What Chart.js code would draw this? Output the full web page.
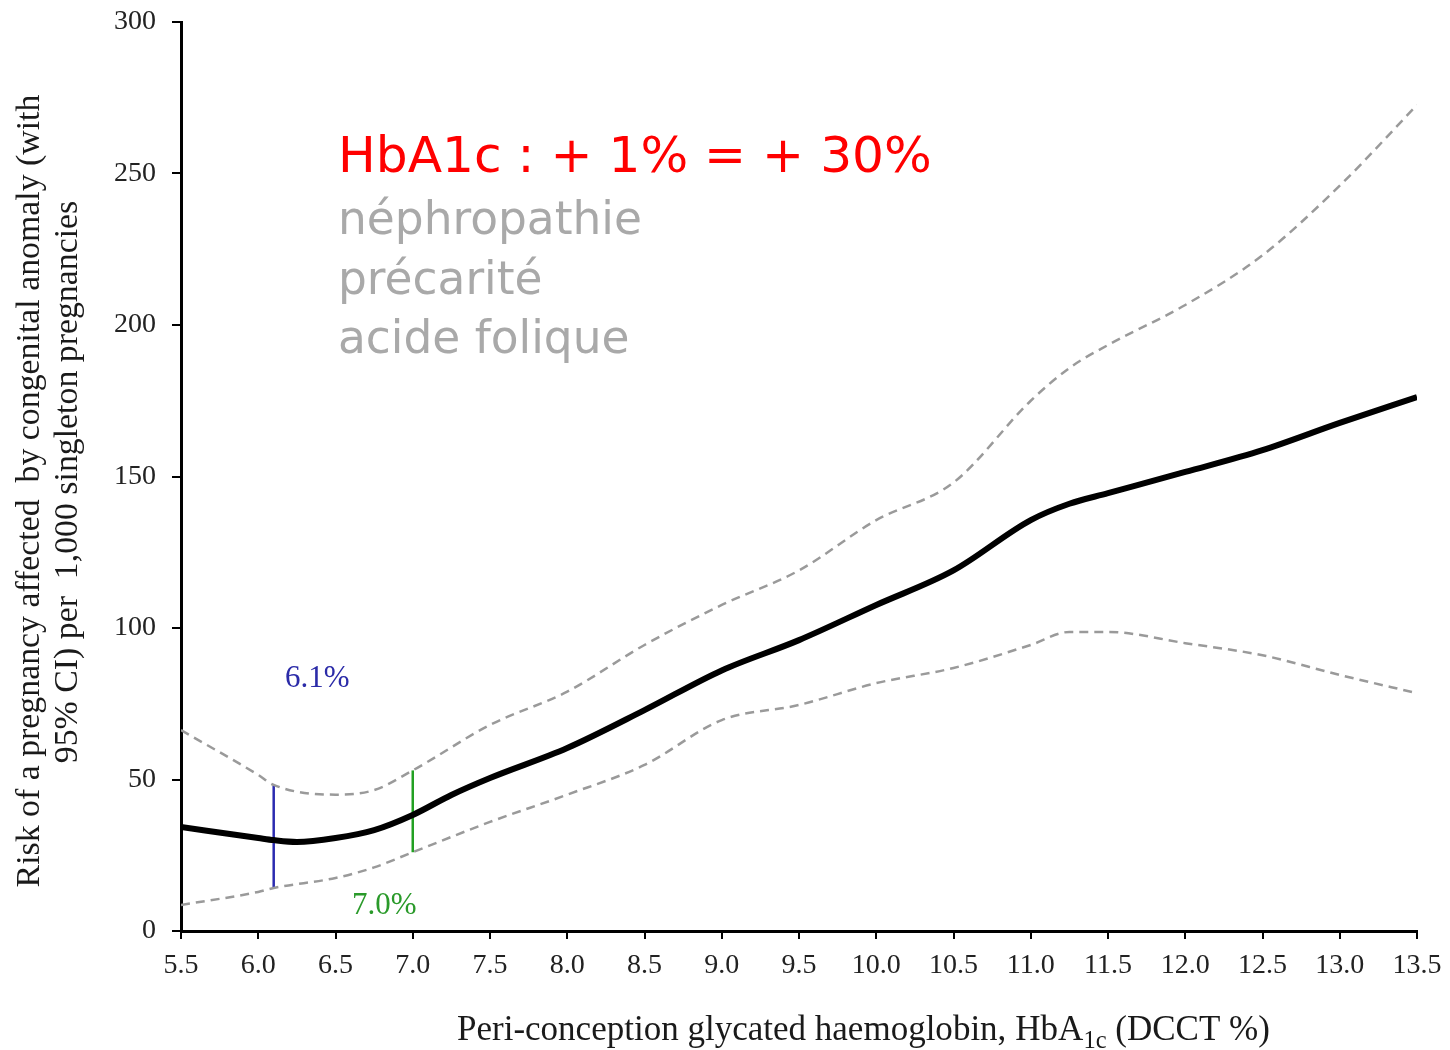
<!DOCTYPE html>
<html>
<head>
<meta charset="utf-8">
<script src="https://cdn.jsdelivr.net/npm/chart.js@4.4.1/dist/chart.umd.min.js"></script>
<style>
html,body{margin:0;padding:0;background:#fff;}
#wrap{width:1450px;height:1050px;position:relative;}
</style>
</head>
<body>
<div id="wrap"><canvas id="c" width="1450" height="1050"></canvas></div>
<script>
// ---- data ----
const hba1c      = [5.5, 6.0, 6.1, 6.25, 6.5, 6.75, 7.0, 7.25, 7.5, 8.0, 8.5, 9.0, 9.5, 10.0, 10.5, 11.0, 11.25, 11.5, 12.0, 12.5, 13.0, 13.5];
const risk       = [34.3, 30.7, 30.0, 29.4, 30.7, 33.3, 38.3, 44.9, 50.5, 60.4, 72.9, 86.0, 96.0, 107.6, 119.0, 135.6, 141.0, 144.5, 151.5, 158.7, 167.7, 176.2];
const ciX        = [5.5, 6.0, 6.1, 6.5, 6.75, 7.0, 7.5, 8.0, 8.5, 9.0, 9.5, 10.0, 10.5, 11.0, 11.25, 11.5, 12.0, 12.5, 13.0, 13.5];
const upperCI    = [66.3, 51.5, 48.2, 45.0, 46.5, 53.0, 68.0, 79.0, 94.4, 107.6, 119.0, 135.6, 148.0, 175.0, 185.8, 193.4, 206.6, 223.0, 246.0, 272.6];
const lowerCI    = [8.6, 12.9, 14.2, 17.5, 21.0, 26.0, 36.0, 45.0, 54.8, 69.6, 74.6, 81.8, 86.8, 94.4, 98.7, 98.7, 95.0, 91.0, 84.5, 78.5];
const marker61   = { x: 6.1, low: 14, high: 48, label: "6.1%" };
const marker70   = { x: 7.0, low: 26, high: 53, label: "7.0%" };
const xTickVals  = [5.5, 6.0, 6.5, 7.0, 7.5, 8.0, 8.5, 9.0, 9.5, 10.0, 10.5, 11.0, 11.5, 12.0, 12.5, 13.0, 13.5];
const yTickVals  = [0, 50, 100, 150, 200, 250, 300];
const yTitleLines = ["Risk of a pregnancy affected  by congenital anomaly (with", "95% CI) per  1,000 singleton pregnancies"];
const xTitleMain = "Peri-conception glycated haemoglobin, HbA";
const xTitleSub  = "1c";
const xTitleEnd  = " (DCCT %)";
const headline   = "HbA1c : + 1% = + 30%";
const notes      = ["néphropathie", "précarité", "acide folique"];

const pts = (xs, ys) => xs.map((x, i) => ({ x: x, y: ys[i] }));
const SERIF = "'Liberation Serif','DejaVu Serif',serif";

function fitFont(ctx, text, width, family, weight) {
  ctx.font = (weight || '') + ' 100px ' + family;
  const w = ctx.measureText(text).width;
  return 100 * width / w;
}

const overlay = {
  id: 'overlay',
  afterDraw(chart) {
    const ctx = chart.ctx;
    ctx.save();
    // marker labels
    ctx.font = '31px ' + SERIF;
    ctx.textAlign = 'left';
    ctx.textBaseline = 'alphabetic';
    ctx.fillStyle = '#2b2ba8';
    ctx.fillText(marker61.label, 285, 687);
    ctx.fillStyle = '#2a9a2a';
    ctx.fillText(marker70.label, 352, 914);

    // headline
    const hfam = "'DejaVu Sans','Noto Sans',sans-serif";
    let fs = fitFont(ctx, headline, 594, hfam);
    ctx.font = fs + 'px ' + hfam;
    ctx.fillStyle = '#ff0000';
    ctx.fillText(headline, 338, 172);
    // notes
    ctx.fillStyle = '#a9a9a9';
    const nfs = fitFont(ctx, notes[0], 304, hfam);
    ctx.font = nfs + 'px ' + hfam;
    const base = [234, 294, 353];
    notes.forEach((t, i) => ctx.fillText(t, 338, base[i]));

    // y title
    ctx.fillStyle = '#1a1a1a';
    const yfs = fitFont(ctx, yTitleLines[0], 793, SERIF);
    ctx.font = yfs + 'px ' + SERIF;
    ctx.textAlign = 'center';
    ctx.textBaseline = 'middle';
    ctx.save();
    ctx.translate(30, 491);
    ctx.rotate(-Math.PI / 2);
    ctx.fillText(yTitleLines[0], 0, 0);
    ctx.restore();
    ctx.save();
    ctx.translate(68, 482);
    ctx.rotate(-Math.PI / 2);
    ctx.fillText(yTitleLines[1], 0, 0);
    ctx.restore();

    // x title with subscript
    ctx.textAlign = 'left';
    ctx.textBaseline = 'alphabetic';
    ctx.font = '100px ' + SERIF;
    const r1 = ctx.measureText(xTitleMain).width;
    const r3 = ctx.measureText(xTitleEnd).width;
    ctx.font = '70px ' + SERIF;
    const r2 = ctx.measureText(xTitleSub).width;
    const xfs = 100 * 813 / (r1 + r2 + r3);
    const w1 = r1 * xfs / 100, w2 = r2 * xfs / 100;
    const x0 = 457;
    const by = 1040;
    ctx.font = xfs + 'px ' + SERIF;
    ctx.fillText(xTitleMain, x0, by);
    ctx.font = (xfs * 0.7) + 'px ' + SERIF;
    ctx.fillText(xTitleSub, x0 + w1, by + 8);
    ctx.font = xfs + 'px ' + SERIF;
    ctx.fillText(xTitleEnd, x0 + w1 + w2, by);
    ctx.restore();
  }
};

const ctx = document.getElementById('c').getContext('2d');
new Chart(ctx, {
  type: 'line',
  data: {
    datasets: [
      { label: 'upper', data: pts(ciX, upperCI), borderColor: '#9a9a9a', borderWidth: 2.5, borderDash: [9, 6], pointRadius: 0, tension: 0.4, cubicInterpolationMode: 'monotone', fill: false },
      { label: 'lower', data: pts(ciX, lowerCI), borderColor: '#9a9a9a', borderWidth: 2.5, borderDash: [9, 6], pointRadius: 0, tension: 0.4, cubicInterpolationMode: 'monotone', fill: false },
      { label: 'risk', data: pts(hba1c, risk), borderColor: '#000', borderWidth: 6, pointRadius: 0, tension: 0.4, cubicInterpolationMode: 'monotone', fill: false },
      { label: 'm61', data: [{ x: marker61.x, y: marker61.low }, { x: marker61.x, y: marker61.high }], borderColor: '#2b2bb0', borderWidth: 2.5, pointRadius: 0, tension: 0 },
      { label: 'm70', data: [{ x: marker70.x, y: marker70.low }, { x: marker70.x, y: marker70.high }], borderColor: '#22a022', borderWidth: 2.5, pointRadius: 0, tension: 0 }
    ]
  },
  options: {
    responsive: false,
    animation: false,
    layout: { padding: { top: 22, right: 33, left: 0, bottom: 0 } },
    plugins: { legend: { display: false }, tooltip: { enabled: false } },
    scales: {
      x: {
        type: 'linear', min: 5.5, max: 13.5,
        afterBuildTicks: s => { s.ticks = xTickVals.map(v => ({ value: v })); },
        afterFit: s => { s.height = 1050 - 931; s.paddingLeft = 0; s.paddingRight = 0; },
        border: { display: true, color: '#000', width: 3 },
        grid: { drawOnChartArea: false, drawTicks: true, tickLength: 8, color: '#000', lineWidth: 2 },
        ticks: { color: '#222', padding: 10, maxRotation: 0, autoSkip: false, font: { family: SERIF, size: 28 }, callback: v => Number(v).toFixed(1) }
      },
      y: {
        type: 'linear', min: 0, max: 300,
        afterBuildTicks: s => { s.ticks = yTickVals.map(v => ({ value: v })); },
        afterFit: s => { s.width = 181; s.paddingTop = 0; s.paddingBottom = 0; },
        border: { display: true, color: '#000', width: 3 },
        grid: { drawOnChartArea: false, drawTicks: true, tickLength: 9, color: '#000', lineWidth: 2 },
        ticks: { color: '#222', padding: 16, font: { family: SERIF, size: 28 } }
      }
    }
  },
  plugins: [overlay]
});
</script>
</body>
</html>
